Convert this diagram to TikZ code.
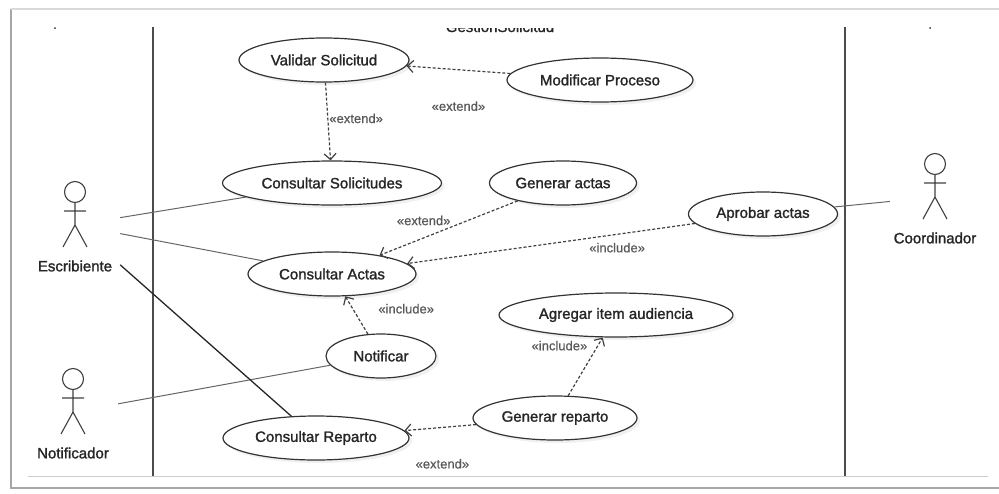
\documentclass[tikz,border=0pt]{standalone}
\usepackage{fontspec}
\setmainfont{Liberation Sans}
\newfontfamily\ucfont[FakeBold=1.4]{Liberation Sans}
\newfontfamily\stfont[FakeBold=0.6]{Liberation Sans}
\usepackage{tikz}
\usetikzlibrary{positioning}
\usetikzlibrary{arrows.meta}
\usetikzlibrary{shapes,shadows}
\tikzset{
    usecase/.style={
           ellipse,
           draw=black!80, line width=1.2pt,
           fill=white,
           minimum height=44pt,
           inner sep=0pt,
           text=black!85,
           font=\ucfont\fontsize{15}{18}\selectfont,
           drop shadow={shadow xshift=3pt, shadow yshift=-3pt, opacity=0.12},
           },
    stereo/.style={
              % font=\tiny,
              on grid=false,
              inner sep=1pt,
              text=black!65,
              font=\stfont\fontsize{13}{15}\selectfont
              },
    assoc/.style={
              draw=black!60, line width=1pt
              },
    dep/.style={
              draw=black!75, line width=1.2pt,
              dash pattern=on 3pt off 2pt,
              -{Straight Barb[length=6pt,width=12pt]}
              },
    actor/.pic={
              \draw[black!75, line width=1.1pt] (0,-33) circle (10.5pt)
                   (0,-22.5) -- (0,0)
                   (-11,-14) -- (11,-14)
                   (-12,22) -- (0,0) -- (12,22);
              \node[text=black!85, font=\ucfont\fontsize{15}{18}\selectfont] at (0,41) {#1};
              \node[minimum width=90pt, minimum height=90pt, inner sep=0pt] (-box) at (0,0) {};
                  },
}
\begin{document}
\begin{tikzpicture}[x=1pt, y=-1pt, node distance=100pt, on grid]
   \useasboundingbox (0,0) rectangle (999,493);
   % frame and lanes
   \draw[black!35, line width=2pt] (11,9) -- (11,488) -- (999,488);
   \draw[black!15, line width=1.5pt] (11,9) -- (999,9);
   \draw[black!70, line width=1.2pt] (153,27) -- (153,476);
   \draw[black!70, line width=1.2pt] (845,27) -- (845,476);
   \draw[black!20, line width=1pt] (28,476) -- (988,476);
   \fill[black!80] (55,28) circle (1pt);
   \fill[black!80] (930,28) circle (1pt);
   \begin{scope}
      \clip (380,28.5) rectangle (620,40);
      \node[anchor=base, text=black!85, font=\ucfont\fontsize{15}{18}\selectfont] (t) at (500,32) {GestionSolicitud};
   \end{scope}

   \node[usecase, minimum width=170pt] (0) at (324,60) {Validar Solicitud};
   \node[usecase, minimum width=186pt] (1) [below right=20pt and 276pt of 0] {Modificar Proceso};
   \node[usecase, minimum width=219pt] (2) [below right=123pt and 8pt of 0] {Consultar Solicitudes};
   \node[usecase, minimum width=147pt] (3) [right=231pt of 2] {Generar actas};
   \node[usecase, minimum width=149pt] (4) [below right=31pt and 200pt of 3] {Aprobar actas};
   \node[usecase, minimum width=168pt] (5) [below=91pt of 2] {Consultar Actas};
   \node[usecase, minimum width=110pt] (6) [below right=82pt and 49pt of 5] {Notificar};
   \node[usecase, minimum width=234pt] (7) [below right=132pt and 53pt of 3] {Agregar item audiencia};
   \node[usecase, minimum width=164pt] (8) [below left=103pt and 61pt of 7] {Generar reparto};
   \node[usecase, minimum width=186pt] (9) [below left=20pt and 239pt of 8] {Consultar Reparto};

   \pic (a) at (75,225) {actor=Escribiente};
   \pic (b) at (73,412) {actor=Notificador};
   \pic (c) at (935,197) {actor=Coordinador};

   \path[assoc]
    (a-box) edge (2)
    (a-box) edge (5)
    (b-box) edge (6)
    (c-box) edge (4)
    (a-box) edge[draw=black!85, line width=1.3pt] (9)
       ;

   \path[dep]
    (1) edge node[stereo, midway, below=30pt]      {«extend»} (0)
    (0) edge node[stereo, pos=0.46, right=0pt]     {«extend»} (2)
    (3) edge node[stereo, pos=0.68, above=11pt]    {«extend»} (5)
    (4) edge node[stereo, pos=0.27, below=7pt]     {«include»} (5)
    (6) edge node[stereo, pos=0.67, right=24pt]    {«include»} (5)
    (8) edge node[stereo, pos=0.86, left=9pt]      {«include»} (7)
    (8) edge node[stereo, pos=0.47, below=30pt]    {«extend»} (9)
       ;
\end{tikzpicture}
\end{document}
